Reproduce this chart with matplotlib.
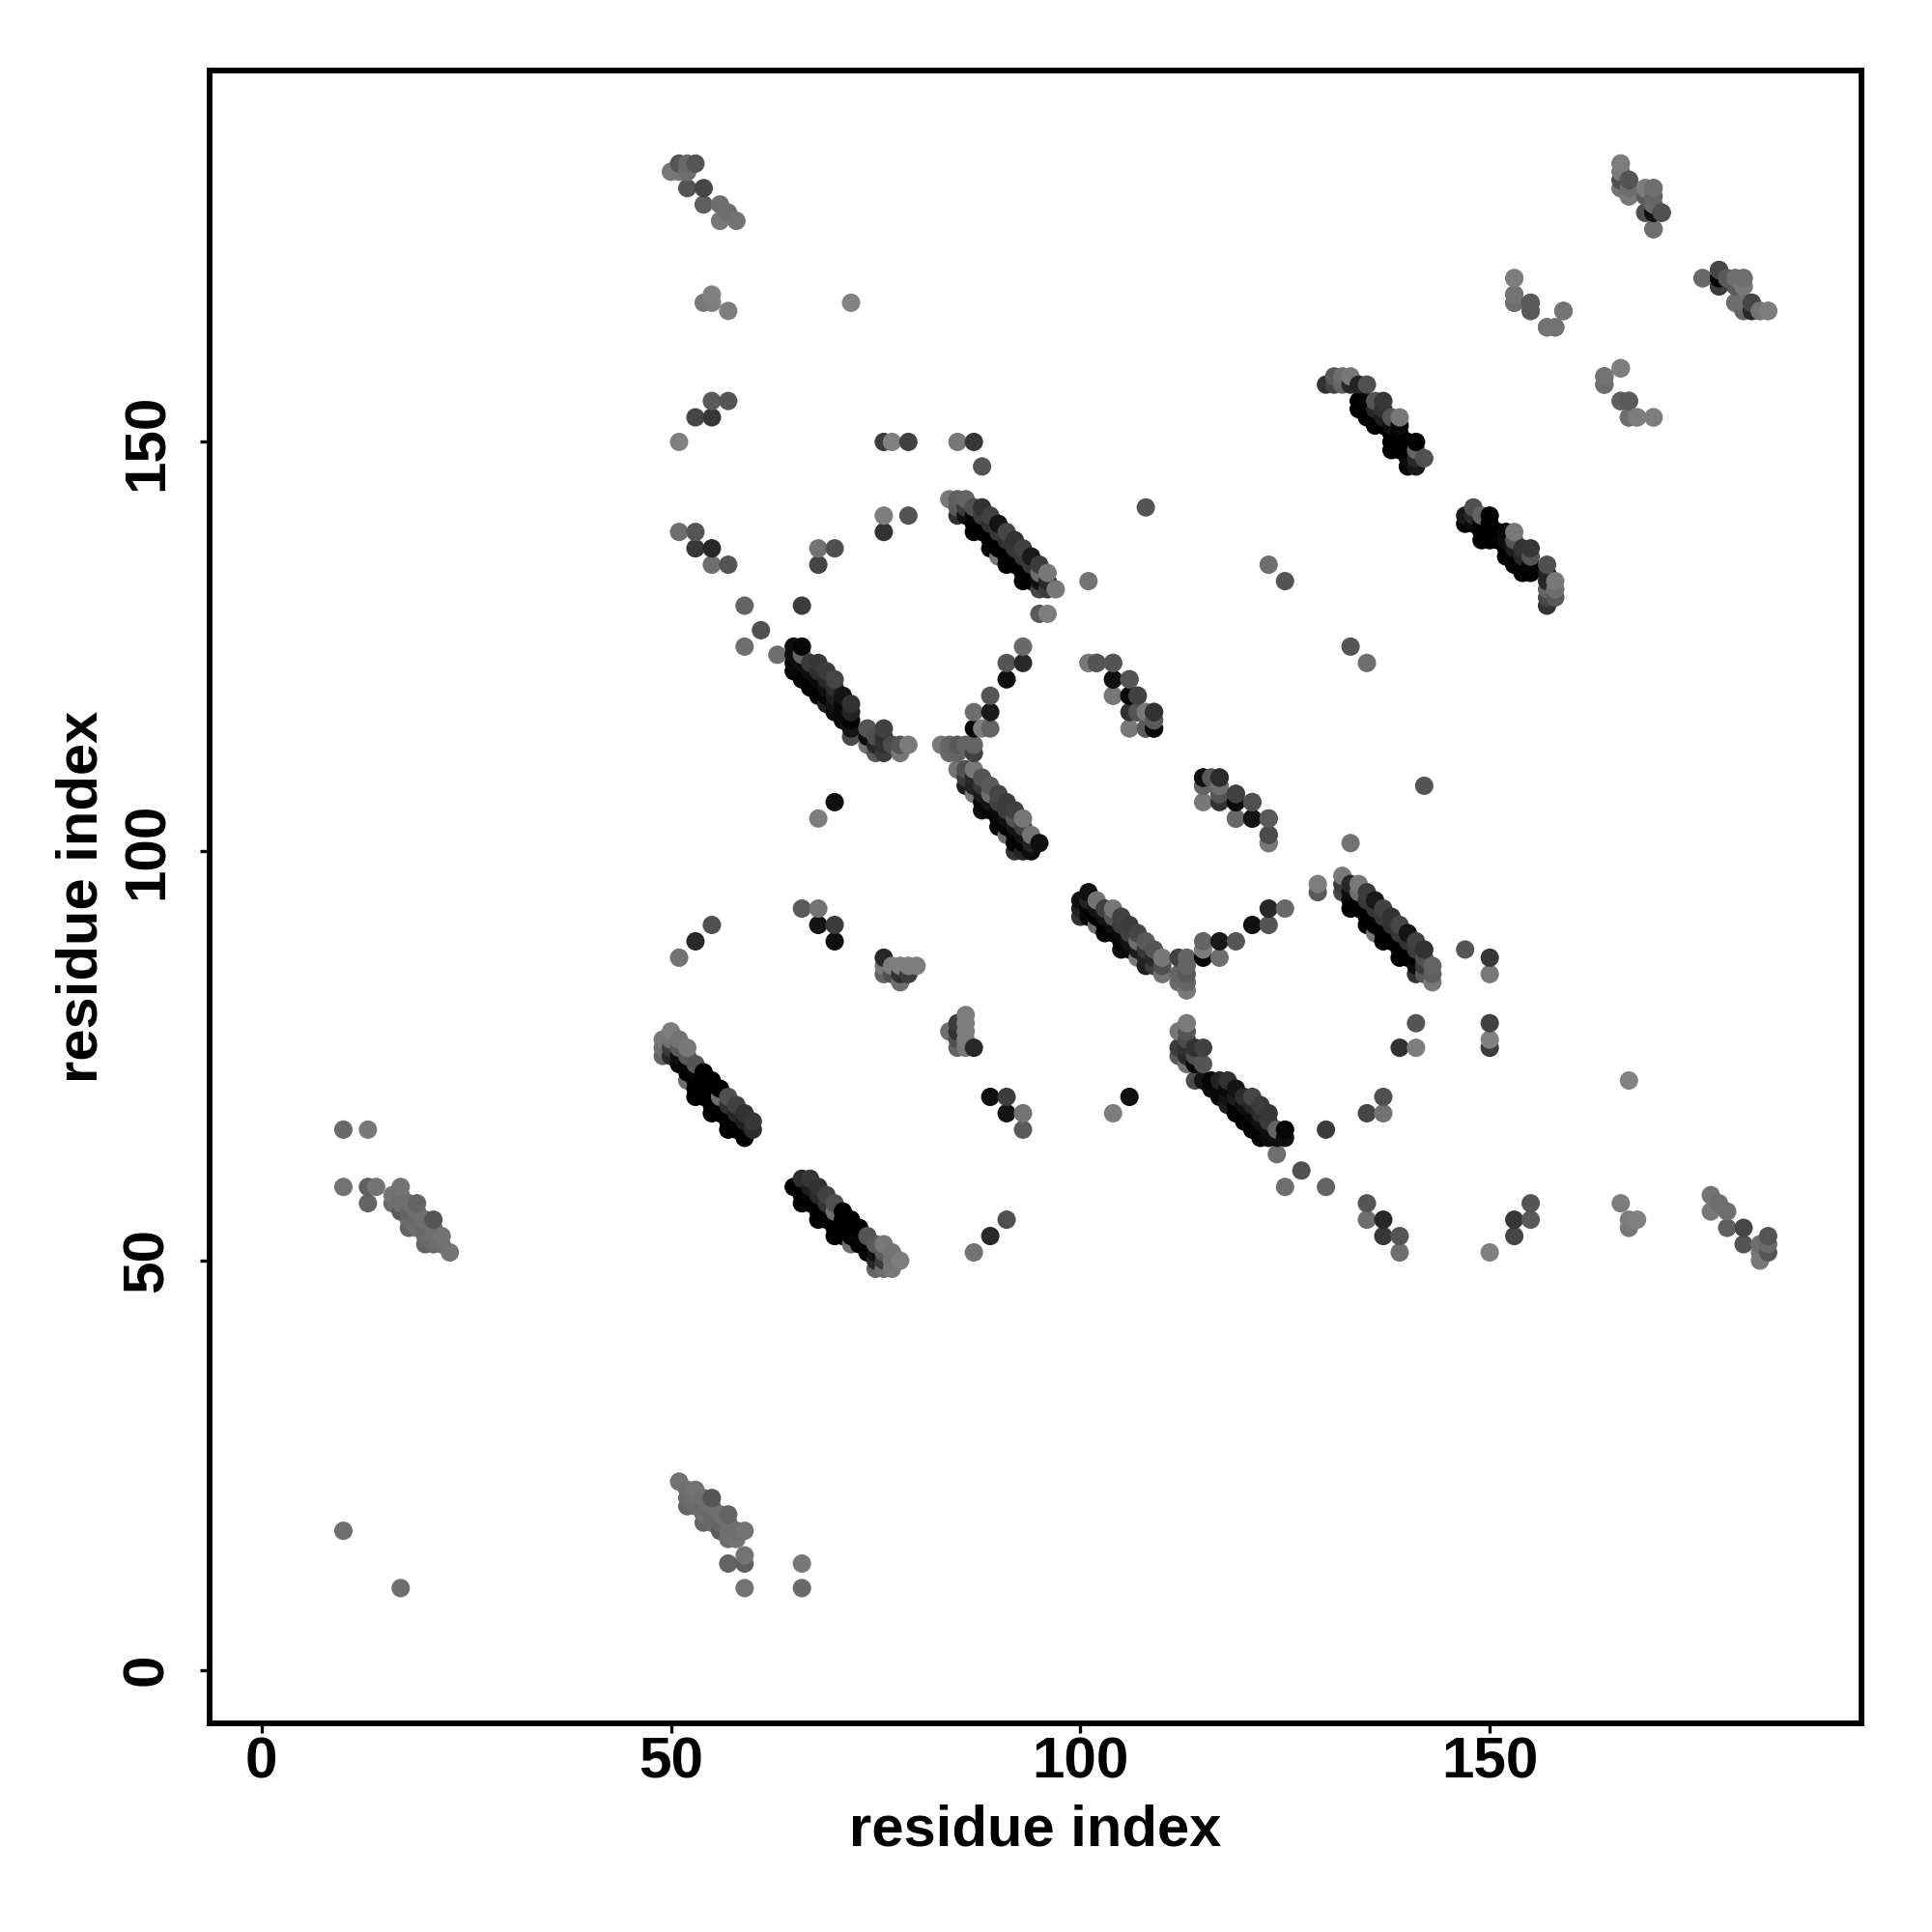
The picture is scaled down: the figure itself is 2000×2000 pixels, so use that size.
import numpy as np
import matplotlib
matplotlib.use("Agg")
import matplotlib.pyplot as plt

plt.rcParams['font.family'] = ['Liberation Sans', 'DejaVu Sans']

# contacts are stored once (i < j), the map is symmetric. grey level 0-255 read by eye
band_a_i = [49,49,49,50,50,50,50,51,51,51,51,52,52,52,52,52,53,53,53,53,53,54,54,54,54,55,55,55,55,55,56,56,56,56,57,57,57,57,57,58,58,58,58,59,59,59,59,60,60]
band_a_j = [77,76,75,78,77,76,75,77,76,75,74,76,75,74,73,72,74,73,72,71,70,73,72,71,70,72,71,70,69,68,71,70,69,68,70,69,68,67,66,69,68,67,66,68,67,66,65,67,66]
band_a_g = [120,110,100,125,115,60,40,115,90,15,5,120,90,5,0,110,85,5,0,0,0,0,0,0,0,0,0,0,0,0,0,110,0,0,80,50,0,0,0,65,40,5,0,50,30,0,0,55,45]

band_b_i = [84,85,86,85,85,86,86,87,87,87,87,88,88,88,88,89,89,89,89,89,90,90,90,90,90,91,91,91,91,91,92,92,92,92,93,93,93,93,93,94,94,94,94,95,95,95,95,96,96,96,97]
band_b_j = [143,143,143,142,141,142,141,142,141,140,139,142,141,140,139,141,140,139,138,137,140,139,138,137,136,139,138,137,136,135,138,137,136,135,137,136,135,134,133,136,135,134,133,135,134,133,132,134,133,132,132]
band_b_g = [120,95,100,90,50,60,15,80,5,0,0,50,60,0,0,65,50,0,0,0,20,55,0,0,120,70,50,0,0,0,50,55,0,0,65,55,0,0,0,25,55,0,0,60,110,15,70,120,40,60,120]

band_c_i = [65,65,65,65,66,66,66,66,66,67,67,67,67,68,68,68,68,68,69,69,69,69,69,70,70,70,70,70,71,71,71,71,72,72,72,72,72,74,74,74,75,75,75,76,76,76,76,77,78,78,79]
band_c_j = [125,124,123,122,125,124,123,122,121,123,122,121,120,123,122,121,120,119,122,121,120,119,118,121,120,119,118,117,119,118,117,116,118,117,116,115,114,115,114,113,114,113,112,115,114,113,112,113,113,112,113]
band_c_g = [15,15,10,0,5,100,15,5,5,60,15,0,0,55,45,10,0,0,60,40,15,5,30,70,45,30,20,10,20,10,10,10,50,35,5,20,75,85,10,115,80,40,90,65,50,50,60,75,85,118,122]

band_d_i = [83,84,84,85,85,86,87,87,85,86,86,86,87,87,87,87,88,88,88,88,88,89,89,89,89,90,90,90,90,90,91,91,91,91,91,92,92,92,92,92,93,93,93,93,93,94,94,94,92,95]
band_d_j = [113,113,112,113,112,113,113,112,110,110,109,108,110,109,108,107,109,108,107,106,105,108,107,106,105,107,106,105,104,103,106,105,104,103,102,105,104,103,102,101,104,103,102,101,100,102,101,100,100,101]
band_d_g = [120,100,105,90,100,100,100,65,115,80,60,30,120,40,35,120,85,55,25,10,15,90,110,20,5,70,65,10,5,5,60,60,15,0,110,65,85,20,0,5,118,65,20,5,35,115,35,15,50,15]

band_e_i = [130,131,131,132,132,133,133,134,135,134,134,135,135,135,136,136,136,136,137,137,137,137,138,138,138,139,139,139,139,139,138,138,140,140,140,140,141,141,141,141,142]
band_e_j = [157,158,157,158,157,158,157,157,157,155,154,155,154,153,155,154,153,152,155,154,153,152,153,152,151,153,152,151,150,149,149,150,150,149,148,147,150,149,148,147,148]
band_e_g = [50,90,70,110,100,120,40,35,80,0,0,5,0,0,85,40,0,0,55,50,30,0,85,15,0,120,10,0,0,0,0,0,0,0,10,5,0,100,40,25,80]

band_f_i = [16,16,17,17,17,17,18,18,18,18,19,19,19,19,20,20,20,20,21,21,21,21,22,22,23]
band_f_j = [58,57,59,58,57,56,57,56,55,54,57,56,55,54,55,54,53,52,55,54,53,52,53,52,51]
band_f_g = [115,110,115,110,110,90,110,100,105,100,100,110,105,110,110,105,105,100,85,110,110,105,115,110,115]

# small groups in the upper part of the map
top_i = [50,51,52,53,51,52,52,54,54,56,57,56,58, 55,54,55,57,72, 55,57,53,55,51,76,77,79,85,87,88,76,79,76,51,53,53,55,55,57,68,70,68,108,
         166,166,166,166,167,167,167,169,170,170,169,170,169,170,171,170,
         153,153,153,155,155,159,157,158, 166,164,164,166,167,167,168,170,
         176,178,178,178,179,180,181,181,180,181,182,182,183,184]
top_j = [183,184,184,184,183,183,181,181,179,179,178,177,177, 168,167,167,166,167, 155,155,153,153,150,150,150,150,150,150,147,141,141,139,139,139,137,137,135,135,137,137,135,142,
         184,183,182,181,182,181,180,181,181,180,180,179,178,178,178,176,
         170,168,167,167,166,166,164,164, 159,158,157,155,155,153,153,153,
         170,171,170,169,170,170,170,169,167,166,167,166,166,166]
top_g = [120,85,105,85,120,110,85,70,95,110,110,120,115, 128,120,125,125,130, 90,85,70,55,128,60,128,65,120,55,85,125,85,50,110,85,55,40,110,85,115,80,70,85,
         125,115,40,100,70,110,110,120,110,110,90,90,60,0,70,105,
         125,125,110,90,95,125,110,115, 115,115,115,90,90,110,115,125,
         110,80,15,80,105,100,110,125,120,115,85,80,120,125]

# scattered contacts near the centre of the map
mid_i = [10,10,10,13,13,14,13, 59,59,61,63,66, 95,96, 89,87,87,88,89,89,91,91,93,93, 70,68,
         51,53,55,66,68,68,70,70,76,76,76,77,77,78,78,78,79,79,80,
         101,102,104,104,106,104,106,107,106,107,108,109,109,109,106,108,
         101,123,125,115,116,117,115,117,117,119,119,121,119,121,123,123,123]
mid_j = [17,66,59,66,59,59,57, 130,125,127,124,130, 129,129, 119,117,115,115,117,115,121,123,123,125, 106,104,
         87,89,91,93,93,91,91,89,87,86,85,86,85,86,85,84,86,85,86,
         123,123,123,121,121,119,119,119,117,117,117,117,116,115,115,115,
         133,135,133,109,109,109,108,108,107,107,106,106,104,104,104,102,101]
mid_g = [110,105,115,120,95,115,100, 100,110,80,110,60, 90,125, 85,110,5,125,25,100,15,85,40,105, 15,125,
         115,40,80,90,115,20,60,15,40,120,100,125,80,125,50,110,125,60,125,
         120,75,90,20,80,105,10,65,50,85,110,45,90,15,120,100,
         115,110,85,10,90,50,90,120,85,65,10,85,120,15,85,85,120]

tick_vals = [0, 50, 100, 150]

i = np.array(band_a_i + band_b_i + band_c_i + band_d_i + band_e_i + band_f_i + top_i + mid_i)
j = np.array(band_a_j + band_b_j + band_c_j + band_d_j + band_e_j + band_f_j + top_j + mid_j)
g = np.array(band_a_g + band_b_g + band_c_g + band_d_g + band_e_g + band_f_g + top_g + mid_g)

# both halves of the map, drawn column by column like the original
xs = np.concatenate([i, j])
ys = np.concatenate([j, i])
gs = np.concatenate([g, g])
order = np.lexsort((ys, xs))
xs, ys, gs = xs[order], ys[order], gs[order]

fig = plt.figure(figsize=(10, 10), dpi=200)
ax = fig.add_axes([216.7/2000, 216/2000, 1710.3/2000, 1711.3/2000])

ax.scatter(xs, ys, s=47, c=[(v/255, v/255, v/255) for v in gs], linewidths=0, zorder=2)

ax.set_xlim(-6.37, 195.4)
ax.set_ylim(-6.52, 195.4)
ax.set_xticks(tick_vals)
ax.set_yticks(tick_vals)
ax.set_xticklabels([str(t) for t in tick_vals])
ax.set_yticklabels([str(t) for t in tick_vals], rotation=90, va='center')
ax.tick_params(axis='x', length=3.6, width=1.2, labelsize=21.7, pad=1.4)
ax.tick_params(axis='y', length=3.6, width=1.2, labelsize=21.7, pad=9.4)
for lab in ax.get_xticklabels() + ax.get_yticklabels():
    lab.set_fontweight('bold')
for sp in ax.spines.values():
    sp.set_linewidth(2.1)

ax.set_xlabel('residue index', fontsize=21.5, fontweight='bold', labelpad=5.2)
ax.set_ylabel('residue index', fontsize=21.5, fontweight='bold', labelpad=4.8)

fig.savefig('out.png', dpi=200, facecolor='white')
